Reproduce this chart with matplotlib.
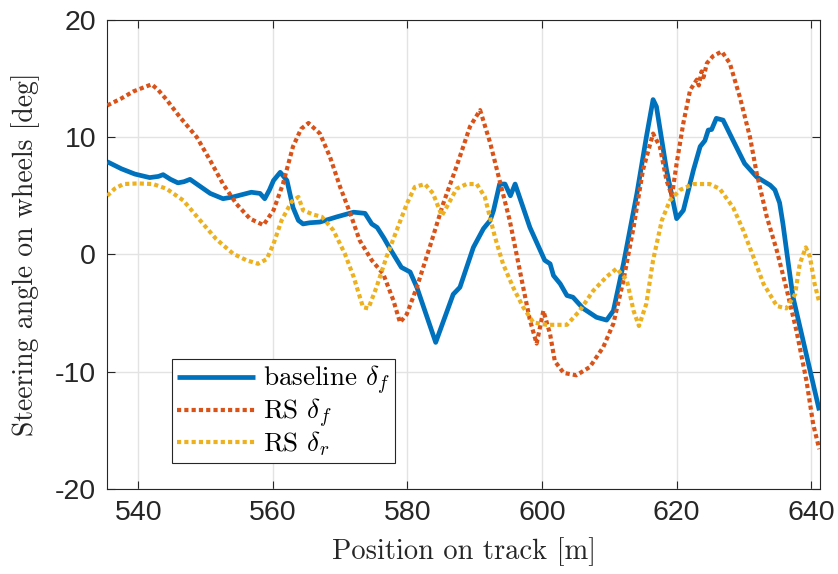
import matplotlib
matplotlib.use('Agg')
import matplotlib.pyplot as plt

# data
baseline_x = [535.4, 537.5, 539.5, 541.7, 543.0, 543.7, 544.8, 545.9, 546.8, 547.7,
              549.2, 550.7, 552.6, 554.1, 556.8, 558.1, 558.8, 559.5, 560.1, 561.1,
              562.1, 563.0, 563.8, 564.5, 565.5, 567.0, 569.5, 572.0, 573.7, 574.7,
              575.5, 576.5, 577.4, 579.1, 580.4, 581.4, 584.2, 586.8, 587.8, 589.8,
              591.3, 592.3, 592.8, 593.7, 594.5, 595.3, 596.0, 598.2, 600.4, 601.2,
              601.7, 602.7, 603.7, 604.6, 606.1, 608.1, 609.6, 610.6, 612.1, 614.1,
              615.5, 616.5, 617.0, 618.5, 620.0, 621.0, 622.5, 623.5, 624.2, 624.7,
              625.2, 625.9, 626.9, 628.4, 630.1, 631.9, 633.9, 634.6, 635.3, 635.8,
              636.6, 637.3, 641.2]
baseline_y = [7.9, 7.3, 6.85, 6.55, 6.65, 6.8, 6.4, 6.1, 6.2, 6.4,
              5.8, 5.2, 4.75, 4.9, 5.3, 5.2, 4.75, 5.5, 6.3, 7.0,
              6.3, 4.0, 2.9, 2.6, 2.7, 2.76, 3.2, 3.6, 3.5, 2.6,
              2.3, 1.4, 0.5, -1.1, -1.5, -2.8, -7.5, -3.4, -2.8, 0.6,
              2.2, 2.9, 3.76, 6.0, 6.0, 5.0, 6.0, 2.3, -0.5, -0.8,
              -1.8, -2.5, -3.5, -3.65, -4.6, -5.36, -5.6, -4.8, -0.8, 5.2,
              10.0, 13.2, 12.6, 7.2, 3.05, 3.76, 7.2, 9.2, 9.7, 10.6,
              10.65, 11.6, 11.45, 9.7, 7.75, 6.6, 5.9, 5.5, 4.4, 2.6,
              -0.8, -3.65, -13.3]

rs_front_x = [535.4, 537.5, 539.3, 542.0, 543.0, 544.2, 546.2, 548.7, 550.7, 552.6,
              554.6, 556.6, 558.6, 560.1, 561.5, 563.0, 564.2, 565.3, 567.0, 568.5,
              570.0, 571.5, 572.9, 574.7, 576.4, 577.9, 578.9, 579.9, 581.4, 583.3,
              585.3, 587.3, 589.3, 590.8, 592.3, 593.7, 595.2, 596.2, 597.2, 598.2,
              599.2, 600.2, 601.2, 601.9, 603.2, 605.1, 607.1, 609.1, 610.6, 612.1,
              613.6, 615.0, 616.5, 617.5, 618.5, 619.3, 620.0, 621.0, 622.0, 623.0,
              623.3, 623.7, 624.0, 624.5, 625.4, 626.7, 627.9, 629.4, 630.9, 631.9,
              633.4, 634.9, 636.4, 637.8, 639.3, 640.3, 641.2]
rs_front_y = [12.7, 13.3, 13.9, 14.5, 14.0, 13.2, 11.7, 10.0, 8.0, 6.0,
              4.3, 3.05, 2.5, 3.76, 6.0, 9.2, 10.7, 11.2, 10.3, 8.3,
              5.75, 3.5, 1.2, -0.5, -1.65, -3.9, -5.8, -5.1, -2.8, 0.6,
              4.3, 7.5, 10.9, 12.3, 9.5, 6.3, 2.9, 0.06, -2.8, -5.6,
              -7.6, -4.8, -6.8, -9.1, -10.1, -10.3, -9.6, -7.9, -5.9, -2.2,
              2.3, 7.2, 10.3, 9.2, 6.3, 5.0, 7.75, 11.2, 14.0, 14.9,
              14.4, 15.6, 15.1, 16.3, 16.9, 17.3, 16.3, 13.4, 10.0, 6.9,
              3.2, 0.3, -3.1, -6.5, -10.8, -14.5, -16.6]

rs_rear_x = [535.4, 536.5, 537.8, 540.0, 542.2, 544.2, 546.7, 549.2, 551.6, 554.1,
             556.1, 557.8, 559.1, 560.1, 561.3, 562.8, 563.8, 564.5, 566.0, 567.3,
             569.0, 570.7, 572.0, 573.4, 574.2, 575.4, 576.9, 578.4, 579.9, 581.1,
             582.6, 583.8, 585.1, 585.8, 587.3, 588.8, 590.3, 591.5, 593.0, 594.2,
             595.7, 597.2, 598.7, 600.7, 603.7, 605.6, 607.6, 609.6, 611.1, 612.6,
             613.6, 614.4, 615.5, 616.5, 617.8, 619.0, 620.5, 622.5, 624.9, 626.4,
             628.4, 629.9, 631.4, 632.9, 634.9, 636.3, 637.6, 638.3, 639.2, 639.8,
             640.5, 641.2]
rs_rear_y = [5.0, 5.6, 6.0, 6.05, 6.0, 5.6, 4.6, 2.9, 1.3, 0.06,
             -0.5, -0.8, -0.4, 0.9, 2.9, 4.5, 4.9, 3.76, 3.4, 3.2,
             2.05, 0.06, -1.9, -4.5, -4.6, -2.8, -0.2, 2.05, 4.3, 5.75,
             6.0, 5.2, 3.3, 4.0, 5.6, 6.0, 6.0, 4.9, 1.5, -0.8,
             -2.8, -4.5, -5.8, -6.0, -6.0, -4.8, -3.1, -1.9, -1.2, -2.2,
             -4.8, -6.1, -4.2, -0.5, 2.9, 4.6, 5.5, 6.0, 6.0, 5.6,
             4.0, 2.05, -0.2, -2.5, -4.4, -4.6, -3.4, -0.8, 0.6, -0.2,
             -2.5, -4.1]

x_ticks = [540, 560, 580, 600, 620, 640]
y_ticks = [-20, -10, 0, 10, 20]

plt.rcParams['mathtext.fontset'] = 'cm'
plt.rcParams['axes.unicode_minus'] = False

fig = plt.figure(figsize=(8.38, 5.74), dpi=100)
ax = fig.add_axes([0.128, 0.148, 0.8505, 0.8175])

ax.plot(baseline_x, baseline_y, color='#0072BD', lw=3.4, label=r'baseline $\delta_f$',
        solid_joinstyle='round', solid_capstyle='butt', zorder=3)
ax.plot(rs_front_x, rs_front_y, color='#D95319', lw=3.0, linestyle=(0, (1, 0.75)),
        dash_capstyle='butt', label=r'RS $\delta_f$', zorder=3)
ax.plot(rs_rear_x, rs_rear_y, color='#EDB120', lw=3.0, linestyle=(0, (1, 0.75)),
        dash_capstyle='butt', label=r'RS $\delta_r$', zorder=3)

ax.set_xlim(535.4, 641.3)
ax.set_ylim(-20, 20)
ax.set_xticks(x_ticks)
ax.set_yticks(y_ticks)
ax.grid(True, color='#e3e3e3', lw=1.0)
ax.set_axisbelow(True)
ax.tick_params(direction='in', top=True, right=True, length=6, width=0.8,
               colors='#262626', labelsize=20.5, pad=8)
for lab in ax.get_xticklabels() + ax.get_yticklabels():
    lab.set_fontfamily('Liberation Sans')
for sp in ax.spines.values():
    sp.set_color('#262626')
    sp.set_linewidth(0.8)

ax.set_xlabel('Position on track [m]', fontfamily='cmr10', fontsize=20.5, labelpad=8,
              color='#262626')
ax.set_ylabel('Steering angle on wheels [deg]', fontfamily='cmr10', fontsize=20,
              labelpad=11, color='#262626')

leg = ax.legend(loc='lower left', bbox_to_anchor=(0.0904, 0.0548), borderaxespad=0,
                fancybox=False, framealpha=1, edgecolor='#262626',
                prop={'family': 'cmr10', 'size': 19.5}, handlelength=2.9,
                handletextpad=0.3, borderpad=0.18, labelspacing=0.0)
leg.get_frame().set_linewidth(0.8)

fig.savefig('out.png', dpi=100)
